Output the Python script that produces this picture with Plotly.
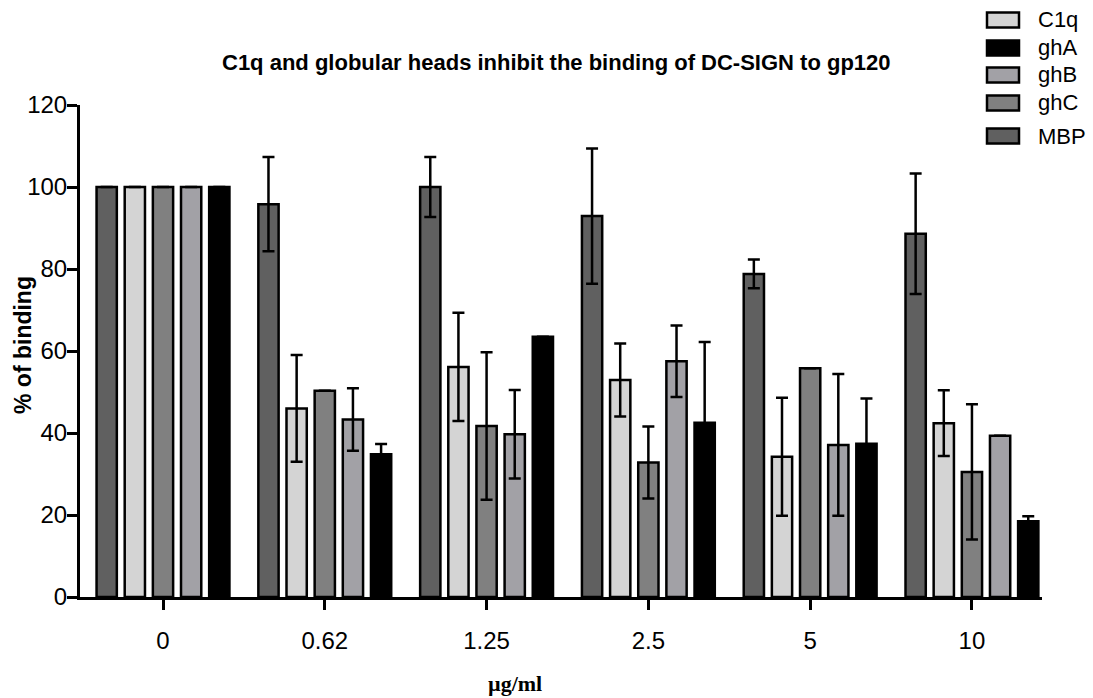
import plotly.graph_objects as go

# Concentrations (µg/ml) on the x axis
concentrations = ["0", "0.62", "1.25", "2.5", "5", "10"]

# Mean % of binding per protein, one value per concentration
mbp_values = [100, 95.8, 100, 92.9, 78.8, 88.6]
c1q_values = [100, 46.0, 56.1, 52.9, 34.2, 42.4]
ghc_values = [100, 50.3, 41.7, 32.8, 55.8, 30.5]
ghb_values = [100, 43.3, 39.7, 57.5, 37.1, 39.3]
gha_values = [100, 34.8, 63.5, 42.5, 37.4, 18.5]

# Error (± SD) per protein
mbp_errors = [0, 11.5, 7.3, 16.5, 3.5, 14.7]
c1q_errors = [0, 13.0, 13.2, 8.9, 14.4, 8.0]
ghc_errors = [0, 0, 18.0, 8.8, 0, 16.5]
ghb_errors = [0, 7.6, 10.8, 8.7, 17.3, 0]
gha_errors = [0, 2.5, 0, 19.7, 11.0, 1.2]

# Bar order inside each group, with fill colour
series = [
    ("MBP", mbp_values, mbp_errors, "#606060"),
    ("C1q", c1q_values, c1q_errors, "#d4d4d4"),
    ("ghC", ghc_values, ghc_errors, "#808080"),
    ("ghB", ghb_values, ghb_errors, "#a2a1a6"),
    ("ghA", gha_values, gha_errors, "#000000"),
]
legend_order = ["C1q", "ghA", "ghB", "ghC", "MBP"]

SANS = "Liberation Sans, Arial, sans-serif"
SERIF = "Liberation Serif, Times New Roman, serif"

W, H = 1093, 698
ML, MR, MT, MB = 80, 51, 105, 101
PW, PH = W - ML - MR, H - MT - MB


def px_x(x):
    return (x - ML) / PW


def px_y(y):
    return (H - MB - y) / PH


fig = go.Figure()
for name, vals, errs, color in series:
    fig.add_trace(go.Bar(
        name=name,
        x=concentrations,
        y=vals,
        showlegend=False,
        marker=dict(color=color, line=dict(color="black", width=2.5)),
        error_y=dict(type="data", array=errs, visible=True,
                     color="black", thickness=2.5, width=6),
    ))

# Legend drawn as swatches with labels, top right
colors = {name: color for name, _, _, color in series}
legend_rows = [20, 48, 75, 103, 136]
shapes = []
annotations = []
for name, yc in zip(legend_order, legend_rows):
    shapes.append(dict(
        type="rect", xref="paper", yref="paper",
        x0=px_x(987), x1=px_x(1019), y0=px_y(yc + 7.5), y1=px_y(yc - 7.5),
        fillcolor=colors[name], line=dict(color="black", width=2.5),
    ))
    annotations.append(dict(
        text=name, xref="paper", yref="paper",
        x=px_x(1036), y=px_y(yc), xanchor="left", yanchor="middle",
        showarrow=False, font=dict(family=SANS, size=22, color="black"),
    ))

annotations += [
    dict(text="<b>C1q and globular heads inhibit the binding of DC-SIGN to gp120</b>",
         xref="paper", yref="paper", x=px_x(556), y=px_y(62),
         xanchor="center", yanchor="middle", showarrow=False,
         font=dict(family=SANS, size=22, color="black")),
    dict(text="<b>% of binding</b>",
         xref="paper", yref="paper", x=px_x(23), y=px_y(345),
         xanchor="center", yanchor="middle", textangle=-90, showarrow=False,
         font=dict(family=SANS, size=23, color="black")),
    dict(text="<b>µg/ml</b>",
         xref="paper", yref="paper", x=px_x(515), y=px_y(683),
         xanchor="center", yanchor="middle", showarrow=False,
         font=dict(family=SERIF, size=22, color="black")),
]

axis_font = dict(family=SANS, size=24, color="black")

fig.update_layout(
    width=W,
    height=H,
    margin=dict(l=ML, r=MR, t=MT, b=MB),
    paper_bgcolor="white",
    plot_bgcolor="white",
    barmode="group",
    bargap=0.13,
    bargroupgap=0.28,
    font=axis_font,
    showlegend=False,
    xaxis=dict(
        type="category",
        range=[-0.513, 5.433],
        showline=True, linecolor="black", linewidth=3,
        ticks="outside", ticklen=10, tickwidth=3, tickcolor="black",
        ticklabelstandoff=10,
        showgrid=False, zeroline=False,
        tickfont=axis_font,
    ),
    yaxis=dict(
        range=[0, 120],
        tickvals=[0, 20, 40, 60, 80, 100, 120],
        showline=True, linecolor="black", linewidth=3,
        ticks="outside", ticklen=10, tickwidth=3, tickcolor="black",
        ticklabelstandoff=-5,
        showgrid=False, zeroline=False,
        tickfont=axis_font,
    ),
    shapes=shapes,
    annotations=annotations,
)

fig.write_html("out.html")
